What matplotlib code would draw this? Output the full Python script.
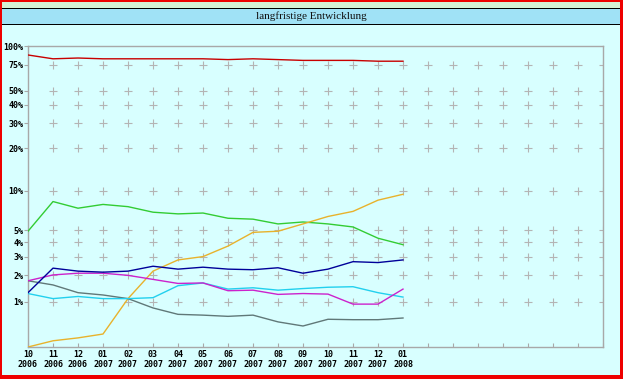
import numpy as np
import matplotlib
matplotlib.use("Agg")
import matplotlib.pyplot as plt
from matplotlib.patches import Rectangle

months = ["10\n2006", "11\n2006", "12\n2006", "01\n2007", "02\n2007", "03\n2007",
          "04\n2007", "05\n2007", "06\n2007", "07\n2007", "08\n2007", "09\n2007",
          "10\n2007", "11\n2007", "12\n2007", "01\n2008"]

red = [87, 82, 83, 82, 82, 82, 82, 82, 81, 82, 81, 80, 80, 80, 79, 79]
green = [4.9, 8.3, 7.4, 7.9, 7.6, 6.9, 6.7, 6.8, 6.2, 6.1, 5.6, 5.8, 5.6, 5.3, 4.3, 3.8]
orange = [0, 0.1, 0.15, 0.22, 1.1, 2.2, 2.8, 3.0, 3.7, 4.8, 4.9, 5.6, 6.4, 7.0, 8.5, 9.4]
blue = [1.3, 2.35, 2.2, 2.15, 2.2, 2.45, 2.3, 2.4, 2.3, 2.27, 2.37, 2.1, 2.3, 2.7, 2.65, 2.8]
magenta = [1.76, 2.02, 2.1, 2.1, 2.0, 1.82, 1.65, 1.67, 1.37, 1.39, 1.24, 1.27, 1.25, 0.93, 0.93, 1.43]
cyan = [1.27, 1.1, 1.17, 1.1, 1.1, 1.13, 1.56, 1.67, 1.43, 1.48, 1.39, 1.45, 1.5, 1.52, 1.3, 1.15]
gray = [1.76, 1.59, 1.30, 1.22, 1.1, 0.82, 0.65, 0.63, 0.60, 0.63, 0.47, 0.38, 0.53, 0.52, 0.52, 0.56]

yticks = [1, 2, 3, 4, 5, 10, 20, 30, 40, 50, 75, 100]
ylabels = ["1%", "2%", "3%", "4%", "5%", "10%", "20%", "30%", "40%", "50%", "75%", "100%"]

W, H = 623, 379
fig = plt.figure(figsize=(W / 100, H / 100), dpi=100)
fig.patch.set_facecolor("#ee0000")


def box(x0, y0, x1, y1, color):
    # pixel coords, origin top-left
    fig.add_artist(Rectangle((x0 / W, 1 - y1 / H), (x1 - x0) / W, (y1 - y0) / H,
                             transform=fig.transFigure, facecolor=color,
                             edgecolor="none", zorder=0))


box(2, 2, 620, 375, "#d8ffff")
box(2, 2, 620, 8, "#d4f0d4")
box(2, 8, 620, 9, "#000000")
box(2, 9, 620, 24, "#a0e2f6")
box(2, 24, 620, 25, "#000000")

fig.text(0.5, 1 - 16.5 / H, "langfristige Entwicklung", ha="center", va="center",
         family="Liberation Serif", fontsize=8, color="#101010")

ax = fig.add_axes([28 / W, 1 - 347 / H, (603 - 28) / W, (347 - 46) / H])
ax.set_facecolor("none")
ax.set_yscale("function", functions=(lambda v: np.log10(np.maximum(v, -0.99) + 1),
                                     lambda y: 10 ** y - 1))
ax.set_ylim(0, 100)
ax.set_xlim(0, 23)

# grid crosses
gx, gy = np.meshgrid(np.arange(1, 24), yticks[:-1])
ax.scatter(gx.ravel(), gy.ravel(), marker="+", s=40, color="#b4b4b4",
           linewidths=0.8, zorder=1)

x = np.arange(len(months))
series = [(red, "#c80000"), (green, "#33cc33"), (orange, "#e8b22c"),
          (gray, "#607878"), (cyan, "#22d0ee"), (magenta, "#cc22cc"),
          (blue, "#000099")]
for vals, c in series:
    ax.plot(x, vals, color=c, lw=1.0, zorder=3)

for s in ax.spines.values():
    s.set_color("#a8a8a8")
    s.set_linewidth(1.0)

ax.set_yticks(yticks)
ax.set_yticklabels(ylabels)
ax.yaxis.set_minor_locator(matplotlib.ticker.NullLocator())
ax.set_xticks(np.arange(0, 24))
ax.set_xticklabels(months + [""] * 8)
ax.tick_params(axis="y", direction="out", length=3, width=0.8, color="#a8a8a8",
               pad=0.5, labelsize=6)
ax.tick_params(axis="x", direction="in", length=3, width=0.8, color="#a8a8a8",
               pad=2, labelsize=6)
for lab in ax.get_xticklabels() + ax.get_yticklabels():
    lab.set_family("DejaVu Sans Mono")
    lab.set_fontweight("bold")
    lab.set_linespacing(1.15)

fig.savefig("out.png", dpi=100, facecolor=fig.get_facecolor())
